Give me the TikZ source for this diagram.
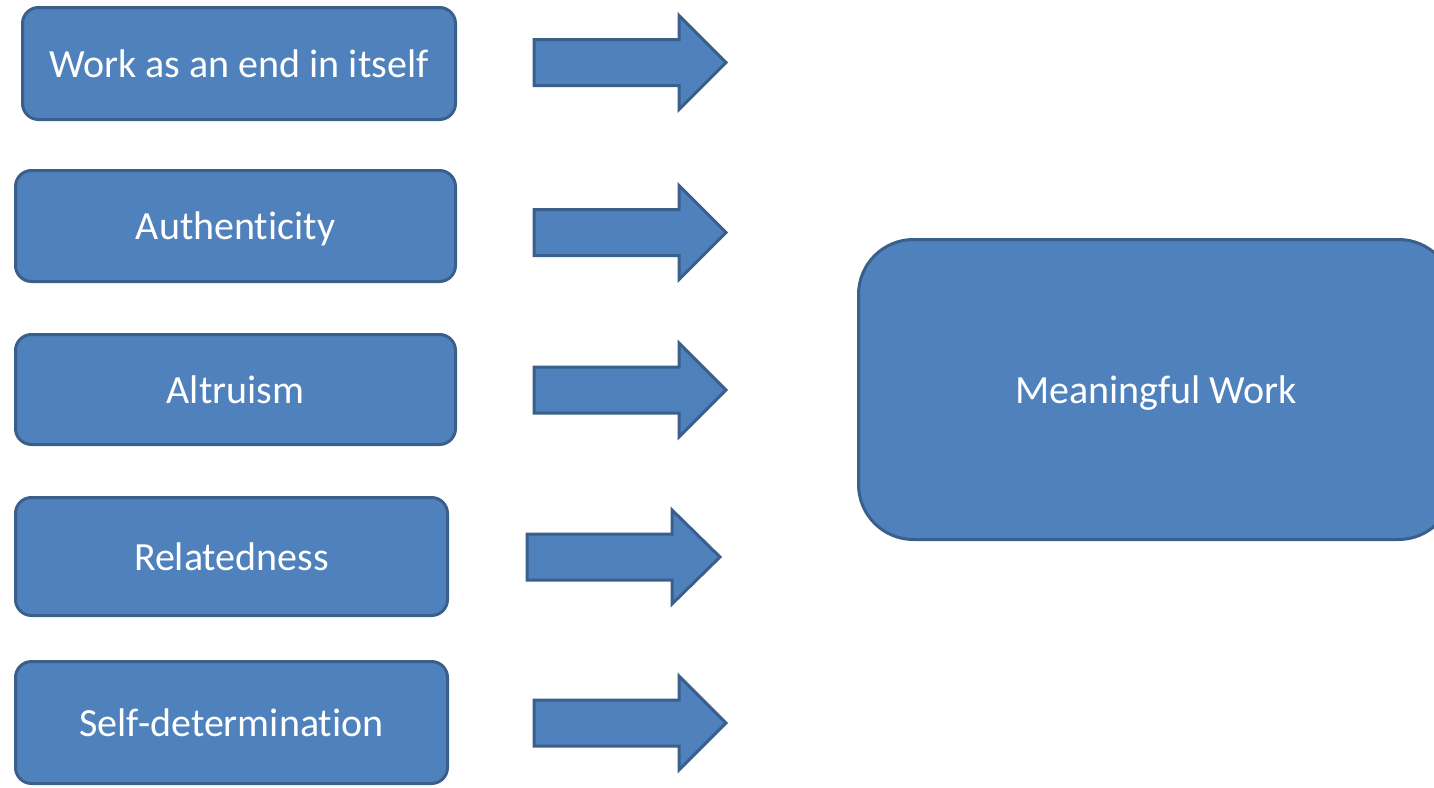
\documentclass[tikz,border=0pt]{standalone}
\usepackage{fontspec}
\setmainfont{Carlito}[Ligatures=NoCommon]
\definecolor{boxfill}{HTML}{4F81BD}
\definecolor{boxline}{HTML}{3A5F8B}
\tikzset{
  factor/.style={rectangle, rounded corners=16pt, draw=boxline, fill=boxfill, line width=3pt,
    text=white, font=\fontsize{40}{46}\selectfont, inner sep=0pt, text depth=0pt},
  outcome/.style={factor, rounded corners=55pt},
  blockarrow/.style={draw=boxline, fill=boxfill, line width=3pt, line join=miter}
}
\newcommand{\blockarr}[4]{% x0, x1(head start), x2 (tip), yc
  \draw[blockarrow] (#1,#4-23) -- (#2,#4-23) -- (#2,#4-47) -- (#3,#4) -- (#2,#4+47) -- (#2,#4+23) -- (#1,#4+23) -- cycle;}
\begin{document}
\begin{tikzpicture}[x=1pt,y=-1pt]
\useasboundingbox (0,0) rectangle (1434,787);
\begin{scope}
\clip (0,0) rectangle (1434,787);
\node[factor, minimum width=433pt, minimum height=112pt] (f1) at (239,63.5) {Work as an end in itself};
\node[factor, minimum width=440pt, minimum height=111pt] (f2) at (235.5,226) {Authenticity};
\node[factor, minimum width=440pt, minimum height=110pt] (f3) at (235.5,389.5) {Altruism};
\node[factor, minimum width=432pt, minimum height=118pt] (f4) at (231.5,556.5) {Relatedness};
\node[factor, minimum width=432pt, minimum height=122pt] (f5) at (231.5,722.5) {Self-determination};
\node[outcome, minimum width=595pt, minimum height=300pt] (mw) at (1156,389.5) {Meaningful Work};
\blockarr{534}{679}{726}{62.5}
\blockarr{534}{679}{726}{232.5}
\blockarr{534}{679}{726}{390}
\blockarr{527}{672}{720}{557}
\blockarr{534}{679}{726}{723}
\end{scope}
\end{tikzpicture}
\end{document}
